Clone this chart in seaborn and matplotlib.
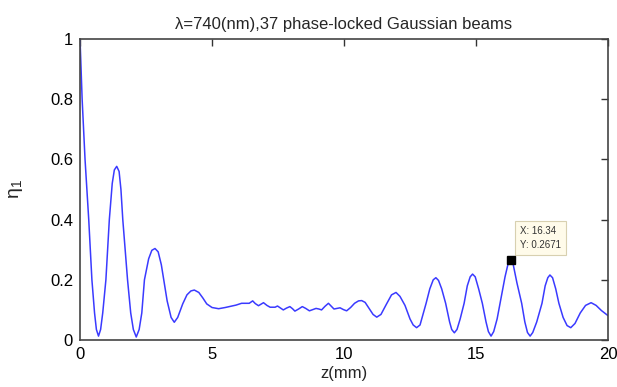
import numpy as np
import pandas as pd
import matplotlib
matplotlib.use("Agg")
import matplotlib.pyplot as plt
import seaborn as sns

# values
z_mm = [0.00, 0.08, 0.19, 0.33, 0.45, 0.55, 0.62, 0.70, 0.78, 0.86,
        0.98, 1.11, 1.22, 1.30, 1.39, 1.48, 1.55, 1.62, 1.80, 1.92,
        2.02, 2.13, 2.24, 2.34, 2.44, 2.60, 2.72, 2.84, 2.96, 3.08,
        3.17, 3.30, 3.45, 3.57, 3.70, 3.89, 4.05, 4.20, 4.33, 4.50,
        4.65, 4.80, 5.00, 5.25, 5.50, 5.91, 6.12, 6.41, 6.54, 6.64,
        6.76, 6.95, 7.08, 7.20, 7.39, 7.48, 7.60, 7.70, 7.82, 7.95,
        8.05, 8.14, 8.28, 8.42, 8.55, 8.69, 8.82, 8.94, 9.05, 9.15,
        9.28, 9.41, 9.52, 9.62, 9.74, 9.85, 9.98, 10.10, 10.25, 10.40,
        10.55, 10.67, 10.80, 10.95, 11.10, 11.24, 11.40, 11.60, 11.80, 11.97,
        12.12, 12.31, 12.50, 12.62, 12.75, 12.88, 13.11, 13.25, 13.38, 13.48,
        13.58, 13.70, 13.85, 14.00, 14.08, 14.18, 14.28, 14.40, 14.55, 14.67,
        14.78, 14.87, 14.97, 15.10, 15.24, 15.38, 15.47, 15.57, 15.67, 15.80,
        15.97, 16.10, 16.22, 16.31, 16.40, 16.55, 16.73, 16.85, 16.95, 17.05,
        17.15, 17.30, 17.50, 17.62, 17.72, 17.80, 17.90, 18.02, 18.14, 18.30,
        18.45, 18.59, 18.75, 18.95, 19.15, 19.36, 19.55, 19.75, 20.00]
eta_1 = [1.000, 0.800, 0.600, 0.400, 0.200, 0.090, 0.035, 0.013, 0.035, 0.090,
         0.200, 0.400, 0.520, 0.565, 0.577, 0.560, 0.500, 0.400, 0.200, 0.090,
         0.035, 0.010, 0.035, 0.090, 0.200, 0.270, 0.298, 0.304, 0.293, 0.250,
         0.200, 0.130, 0.075, 0.059, 0.075, 0.120, 0.150, 0.163, 0.166, 0.158,
         0.140, 0.120, 0.108, 0.104, 0.108, 0.116, 0.122, 0.122, 0.130, 0.121,
         0.114, 0.124, 0.115, 0.109, 0.109, 0.113, 0.106, 0.100, 0.106, 0.111,
         0.104, 0.096, 0.103, 0.111, 0.105, 0.097, 0.101, 0.105, 0.103, 0.100,
         0.112, 0.122, 0.112, 0.103, 0.105, 0.107, 0.101, 0.097, 0.108, 0.122,
         0.130, 0.131, 0.125, 0.105, 0.085, 0.076, 0.085, 0.118, 0.150, 0.158,
         0.145, 0.115, 0.070, 0.050, 0.041, 0.050, 0.122, 0.170, 0.200, 0.207,
         0.198, 0.170, 0.122, 0.060, 0.035, 0.024, 0.035, 0.070, 0.122, 0.180,
         0.210, 0.219, 0.210, 0.170, 0.122, 0.060, 0.028, 0.013, 0.028, 0.070,
         0.150, 0.210, 0.255, 0.267, 0.255, 0.190, 0.122, 0.060, 0.025, 0.013,
         0.025, 0.060, 0.122, 0.180, 0.207, 0.216, 0.207, 0.170, 0.122, 0.075,
         0.048, 0.041, 0.055, 0.090, 0.115, 0.124, 0.115, 0.098, 0.081]

tip_x = 16.34
tip_y = 0.2671

df = pd.DataFrame({"z": z_mm, "eta": eta_1})

sns.set_theme(style="white")
plt.rcParams['font.family'] = ['Liberation Sans', 'DejaVu Sans']
plt.rcParams['mathtext.fontset'] = 'custom'
plt.rcParams['mathtext.rm'] = 'Liberation Sans'

fig = plt.figure(figsize=(6.17, 3.87), dpi=100)
ax = fig.add_axes([0.1297, 0.1214, 0.8557, 0.7778])

sns.lineplot(data=df, x="z", y="eta", sort=False, estimator=None,
             color="#3a3aff", linewidth=1.1, ax=ax)

# data tip like matlab
ax.plot(tip_x, tip_y, marker="s", color="black", markersize=5.5, zorder=5)
ax.annotate(f"X: {tip_x}\nY: {tip_y}", xy=(tip_x, tip_y),
            xytext=(6, 7), textcoords="offset points",
            fontsize=7, color="#333333", va="bottom", ha="left",
            linespacing=1.45,
            bbox=dict(boxstyle="square,pad=0.5", fc="#fffbea", ec="#d8d0b0", lw=0.8))

ax.set_xlim(0, 20)
ax.set_ylim(0, 1)
ax.set_xticks([0, 5, 10, 15, 20])
ax.set_yticks([0, 0.2, 0.4, 0.6, 0.8, 1])
ax.set_yticklabels(["0", "0.2", "0.4", "0.6", "0.8", "1"])
ax.tick_params(direction="in", length=5, width=1, top=True, right=True,
               labelsize=12, colors="#333333", labelcolor="black", pad=5)
for s in ax.spines.values():
    s.set_color("#444444")
    s.set_linewidth(1.2)

ax.set_title("\u03bb=740(nm),37 phase-locked Gaussian beams", fontsize=12, pad=7)
ax.set_xlabel("z(mm)", fontsize=12, labelpad=3)
ax.set_ylabel("$\\mathrm{\\eta_1}$", fontsize=14, labelpad=18)

fig.savefig("out.png", dpi=100)
